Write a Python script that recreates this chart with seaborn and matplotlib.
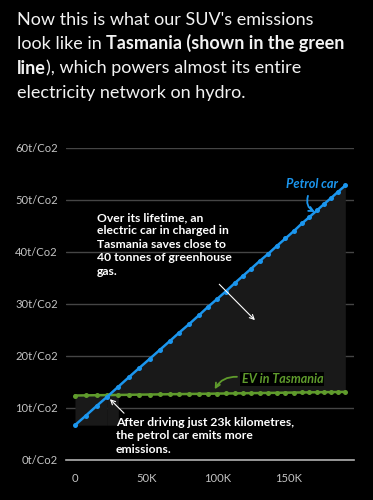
import numpy as np
import pandas as pd
import matplotlib
matplotlib.use("Agg")
import matplotlib.pyplot as plt
import seaborn as sns

# ---------------- data ----------------
distance_k = [0, 7.5, 15.2, 22.7, 30.4, 38.1, 45.1, 52.6, 59.6, 66.6, 73.1,
              79.9, 86.8, 93.1, 99.4, 105.7, 112.0, 117.8, 123.6, 129.7, 135.7,
              141.7, 147.6, 153.8, 159.2, 164.3, 169.7, 174.6, 179.7, 184.6, 189.6]
petrol_t = [6.7, 8.5, 10.4, 12.2, 14.1, 16.0, 17.7, 19.5, 21.2, 22.9, 24.5,
            26.1, 27.8, 29.4, 30.9, 32.4, 34.0, 35.4, 36.8, 38.3, 39.7,
            41.2, 42.6, 44.1, 45.5, 46.7, 48.0, 49.2, 50.4, 51.6, 52.8]
ev_tas_t = [12.40, 12.43, 12.46, 12.48, 12.51, 12.54, 12.57, 12.59, 12.62, 12.65, 12.67,
            12.70, 12.72, 12.74, 12.77, 12.79, 12.81, 12.84, 12.86, 12.88, 12.90,
            12.92, 12.95, 12.97, 12.99, 13.01, 13.03, 13.05, 13.06, 13.08, 13.10]
y_ticks = [0, 10, 20, 30, 40, 50, 60]
y_tick_labels = ["0t/Co2", "10t/Co2", "20t/Co2", "30t/Co2", "40t/Co2", "50t/Co2", "60t/Co2"]
x_ticks = [0, 50, 100, 150]
x_tick_labels = ["0", "50K", "100K", "150K"]

title_lines = [
    [("Now this is what our SUV's emissions", "normal")],
    [("look like in ", "normal"), ("Tasmania (shown in the green", "bold")],
    [("line", "bold"), ("), which powers almost its entire", "normal")],
    [("electricity network on hydro.", "normal")],
]
note_saving = "Over its lifetime, an\nelectric car in charged in\nTasmania saves close to\n40 tonnes of greenhouse\ngas."
note_cross = "After driving just 23k kilometres,\nthe petrol car emits more\nemissions."
label_petrol = "Petrol car"
label_ev = "EV in Tasmania"

# ---------------- style ----------------
BG = "#000000"
BLUE = "#1b96ee"
GREEN = "#5f9b2c"
FILL = "#191919"
GRID = "#454545"
TICK = "#c4c4c4"
FONT = "Lato"

sns.set_style("dark")
plt.rcParams["font.family"] = [FONT, "DejaVu Sans"]

W, H = 373, 500
fig = plt.figure(figsize=(W / 100, H / 100), dpi=100, facecolor=BG)
ax = fig.add_axes([66 / W, 40 / H, 288 / W, 312 / H])
ax.set_facecolor(BG)

df = pd.DataFrame({"distance": distance_k, "petrol": petrol_t, "ev": ev_tas_t})
d = np.array(distance_k)
p = np.array(petrol_t)
e = np.array(ev_tas_t)

# shaded saving area
before = p <= e
ax.fill_between(d, p[0], e, where=before, color=FILL, lw=0, zorder=1)
ax.fill_between(d, e, p, where=p >= e, interpolate=True, color=FILL, lw=0, zorder=1)
idx = np.where(before)[0][-1]
ax.fill_between(d[idx:idx + 2], [p[0], p[0]], e[idx:idx + 2], color=FILL, lw=0, zorder=1)
ax.fill_between(d[idx:idx + 2], e[idx:idx + 2], [max(p[idx], e[idx]), p[idx + 1]], color=FILL, lw=0, zorder=1)

sns.lineplot(data=df, x="distance", y="ev", ax=ax, color=GREEN, marker="o",
             markersize=3.6, markeredgewidth=0, linewidth=1.8, zorder=3)
sns.lineplot(data=df, x="distance", y="petrol", ax=ax, color=BLUE, marker="o",
             markersize=3.6, markeredgewidth=0, linewidth=1.8, zorder=4)

ax.set_xlim(-6.3, 195.7)
ax.set_ylim(0, 60)
ax.set_xlabel("")
ax.set_ylabel("")
ax.set_yticks(y_ticks)
ax.set_yticklabels(y_tick_labels)
ax.set_xticks(x_ticks)
ax.set_xticklabels(x_tick_labels)
ax.grid(axis="y", color=GRID, lw=1)
ax.grid(axis="x", visible=False)
ax.set_axisbelow(True)
for s in ["left", "right", "top"]:
    ax.spines[s].set_visible(False)
ax.spines["bottom"].set_color("#b0b0b0")
ax.spines["bottom"].set_linewidth(1.2)
ax.tick_params(axis="y", length=0, pad=6, labelsize=8.1, labelcolor=TICK)
ax.tick_params(axis="x", length=3.5, width=1, color="#b0b0b0", direction="out",
               pad=6, labelsize=8.1, labelcolor=TICK)

# annotations
ax.text(15.4, 47.7, note_saving, color="white", fontsize=8.7, fontweight="bold",
        ha="left", va="top", linespacing=1.27, zorder=6)
ax.annotate("", xy=(126.2, 26.9), xytext=(101.2, 33.8),
            arrowprops=dict(arrowstyle="->", color="white", lw=0.8,
                            mutation_scale=8, shrinkA=0, shrinkB=0), zorder=6)
ax.text(28.8, 8.3, note_cross, color="white", fontsize=8.7, fontweight="bold",
        ha="left", va="top", linespacing=1.27, zorder=6)
ax.annotate("", xy=(24.5, 11.7), xytext=(34.4, 9.0),
            arrowprops=dict(arrowstyle="->", color="white", lw=0.8,
                            mutation_scale=8, shrinkA=0, shrinkB=0), zorder=6)

ax.text(166.2, 53.1, label_petrol, color=BLUE, fontsize=9.2, fontweight="bold",
        fontstyle="italic", ha="center", va="center", zorder=6)
ax.annotate("", xy=(168.3, 47.7), xytext=(163.4, 50.8),
            arrowprops=dict(arrowstyle="->", color=BLUE, lw=1.3, mutation_scale=8,
                            connectionstyle="arc3,rad=0.4", shrinkA=0, shrinkB=0), zorder=6)

ax.text(145.5, 15.6, label_ev, color=GREEN, fontsize=9, fontweight="bold",
        fontstyle="italic", ha="center", va="center", zorder=6,
        bbox=dict(boxstyle="square,pad=0.1", facecolor=BG, edgecolor="none"))
ax.annotate("", xy=(98.0, 13.6), xytext=(113.6, 16.0),
            arrowprops=dict(arrowstyle="->", color=GREEN, lw=1.3, mutation_scale=8,
                            connectionstyle="arc3,rad=0.3", shrinkA=0, shrinkB=0), zorder=6)

# rich title
renderer = fig.canvas.get_renderer()
baselines = [25, 49, 73.5, 98]
for line, base in zip(title_lines, baselines):
    x = 17.0
    for txt, wt in line:
        t = fig.text(x / W, 1 - base / H, txt, fontsize=13.0, fontweight=wt,
                     color="#f2f2f2", ha="left", va="baseline")
        x += t.get_window_extent(renderer=renderer).width

fig.savefig("out.png", dpi=100, facecolor=BG)
